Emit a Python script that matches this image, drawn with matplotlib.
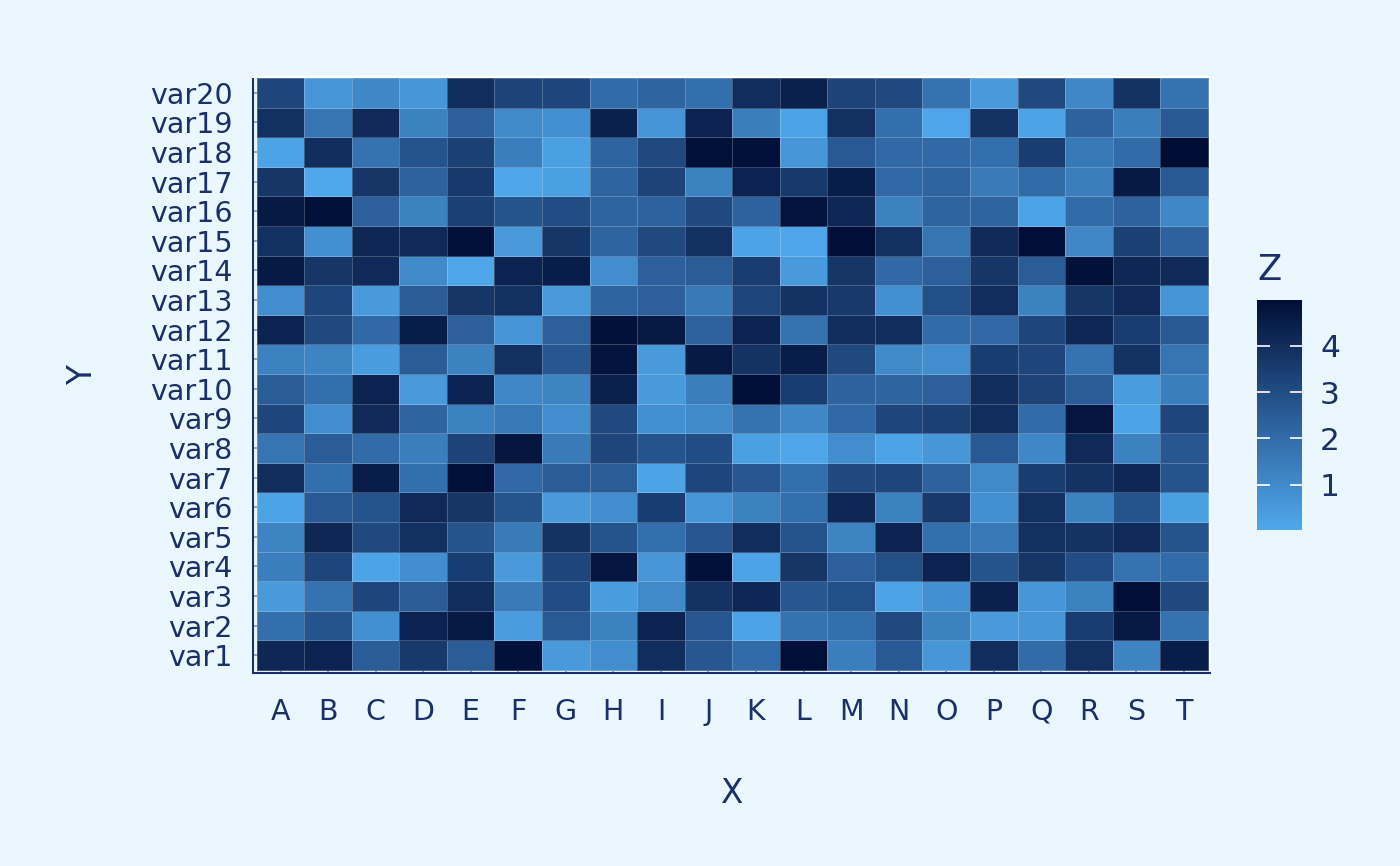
import numpy as np
import matplotlib
matplotlib.use("Agg")
import matplotlib.pyplot as plt
from matplotlib.colors import LinearSegmentedColormap

# columns A..T, rows var1..var20
x_labels = list("ABCDEFGHIJKLMNOPQRST")
y_labels = ["var%d" % i for i in range(1, 21)]

# values, one list per row, top row (var20) first
z_rows = {
    "var20": [3.2, 0.6, 1.1, 0.6, 4.0, 3.3, 3.2, 2.0, 2.2, 1.9, 4.0, 4.4, 3.3, 3.1, 1.8, 0.5, 3.1, 1.1, 3.8, 1.8],
    "var19": [3.9, 1.7, 4.1, 1.3, 2.4, 1.0, 0.8, 4.4, 0.7, 4.3, 1.4, 0.2, 3.9, 1.9, 0.1, 3.8, 0.2, 2.3, 1.4, 2.6],
    "var18": [0.2, 4.0, 1.8, 2.8, 3.4, 1.4, 0.3, 2.2, 3.1, 4.9, 4.9, 0.6, 2.6, 2.1, 2.1, 1.9, 3.5, 1.6, 2.0, 5.0],
    "var17": [3.7, 0.02, 3.7, 2.3, 3.6, 0.1, 0.3, 2.2, 3.3, 1.3, 4.3, 3.6, 4.5, 2.1, 2.2, 1.5, 2.0, 1.4, 4.6, 2.6],
    "var16": [4.6, 4.9, 2.4, 1.3, 3.4, 2.8, 3.0, 2.2, 2.3, 3.1, 2.3, 4.8, 4.2, 1.3, 2.2, 2.2, 0.2, 2.0, 2.3, 1.1],
    "var15": [3.9, 0.8, 4.2, 4.1, 4.9, 0.5, 3.7, 2.2, 3.1, 3.9, 0.2, 0.1, 4.95, 3.9, 1.7, 4.1, 4.95, 1.1, 3.4, 2.3],
    "var14": [4.6, 3.7, 4.1, 1.0, 0.1, 4.3, 4.5, 0.9, 2.4, 2.5, 3.5, 0.5, 3.7, 2.1, 2.4, 3.7, 2.5, 4.9, 4.2, 4.1],
    "var13": [0.9, 3.2, 0.5, 2.5, 3.7, 3.9, 0.5, 2.2, 2.4, 1.6, 3.2, 3.8, 3.6, 0.8, 2.9, 4.0, 1.3, 3.7, 4.1, 0.7],
    "var12": [4.3, 3.1, 2.1, 4.5, 2.4, 0.7, 2.4, 4.9, 4.6, 2.3, 4.3, 1.8, 4.0, 4.0, 2.0, 2.1, 3.2, 4.2, 3.5, 2.6],
    "var11": [1.3, 1.2, 0.4, 2.5, 1.3, 3.9, 2.7, 4.8, 0.5, 4.6, 3.8, 4.5, 3.1, 1.0, 0.9, 3.5, 3.2, 1.8, 3.8, 1.7],
    "var10": [2.5, 1.9, 4.3, 0.5, 4.3, 1.1, 1.2, 4.4, 0.5, 1.4, 4.98, 3.5, 2.3, 2.2, 2.4, 4.0, 3.3, 2.5, 0.4, 1.4],
    "var9":  [3.2, 0.9, 4.1, 2.2, 1.3, 1.6, 0.9, 3.1, 0.8, 1.0, 1.8, 1.1, 2.1, 3.2, 3.4, 4.0, 2.0, 4.7, 0.2, 3.2],
    "var8":  [1.7, 2.5, 2.0, 1.4, 3.3, 4.7, 1.5, 3.2, 2.8, 3.0, 0.3, 0.1, 0.9, 0.2, 0.6, 2.6, 1.1, 4.1, 1.3, 2.7],
    "var7":  [4.0, 1.9, 4.5, 1.9, 4.9, 2.1, 2.5, 2.5, 0.2, 3.2, 2.7, 1.9, 3.1, 3.2, 2.3, 1.0, 3.5, 3.8, 4.2, 2.8],
    "var6":  [0.2, 2.6, 2.8, 4.1, 3.7, 2.8, 0.5, 0.9, 3.5, 0.6, 1.3, 1.9, 4.2, 1.3, 3.6, 0.8, 3.9, 1.3, 2.8, 0.3],
    "var5":  [1.2, 4.2, 3.1, 3.9, 2.8, 1.5, 3.8, 2.8, 1.9, 2.7, 4.0, 2.8, 1.2, 4.3, 1.9, 1.6, 3.9, 3.8, 4.1, 2.8],
    "var4":  [1.4, 3.2, 0.2, 0.9, 3.5, 0.5, 3.2, 4.7, 0.6, 4.9, 0.2, 3.7, 2.4, 2.9, 4.3, 2.8, 3.7, 3.0, 1.8, 2.0],
    "var3":  [0.5, 1.8, 3.2, 2.5, 4.0, 1.5, 3.0, 0.4, 1.0, 3.8, 4.2, 2.7, 2.9, 0.2, 0.8, 4.4, 0.6, 1.3, 4.95, 3.1],
    "var2":  [1.9, 2.8, 0.8, 4.3, 4.6, 0.4, 2.6, 1.3, 4.3, 2.7, 0.2, 1.8, 1.9, 3.1, 1.3, 0.5, 0.6, 3.5, 4.6, 1.8],
    "var1":  [4.2, 4.3, 2.5, 3.6, 2.5, 4.9, 0.5, 0.9, 4.0, 2.7, 2.0, 4.95, 1.4, 2.6, 0.6, 4.0, 2.0, 3.9, 1.2, 4.5],
}
z = np.array([z_rows[v] for v in y_labels])

bg = "#EBF7FF"
ink = "#1B3068"
cmap = LinearSegmentedColormap.from_list("z", ["#4FA8EB", "#2A5C97", "#000E36"])

fig = plt.figure(figsize=(14, 8.66), dpi=100, facecolor=bg)
ax = fig.add_axes([0.181, 0.223, 0.683, 0.688])
ax.set_facecolor(bg)

ax.set_xticks(range(20))
ax.set_yticks(range(20))
ax.grid(True, color="#8C93A6", linewidth=1.2)
ax.set_axisbelow(True)

mesh = ax.pcolormesh(np.arange(21) - 0.5, np.arange(21) - 0.5, z, cmap=cmap,
                     vmin=z.min(), vmax=z.max(),
                     edgecolor=(1, 1, 1, 0.22), linewidth=0.6, zorder=2)
ax.set_xlim(-0.57, 19.54)
ax.set_ylim(-0.6, 19.53)

ax.set_xticklabels(x_labels, fontsize=20.5, color=ink)
ax.set_yticklabels(y_labels, fontsize=20.5, color=ink)
ax.tick_params(axis="x", length=0, pad=18)
ax.tick_params(axis="y", length=0, pad=15)
for s in ["left", "bottom"]:
    ax.spines[s].set_color(ink)
    ax.spines[s].set_linewidth(1.5)
for s in ["top", "right"]:
    ax.spines[s].set_color("white")
    ax.spines[s].set_linewidth(1.5)

ax.set_xlabel("X", fontsize=23.5, color=ink, labelpad=37)
ax.set_ylabel("Y", fontsize=23.5, color=ink, labelpad=37)

cax = fig.add_axes([0.898, 0.388, 0.032, 0.266])
cb = fig.colorbar(mesh, cax=cax)
cb.outline.set_visible(False)
cb.set_ticks([1, 2, 3, 4])
cax.tick_params(length=9, width=1.2, color="white", direction="in",
                left=True, right=True, labelsize=22.5, labelcolor=ink, pad=13)
cax.set_title("Z", fontsize=25.5, color=ink, loc="left", pad=14)

fig.savefig("out.png", dpi=100, facecolor=bg)
